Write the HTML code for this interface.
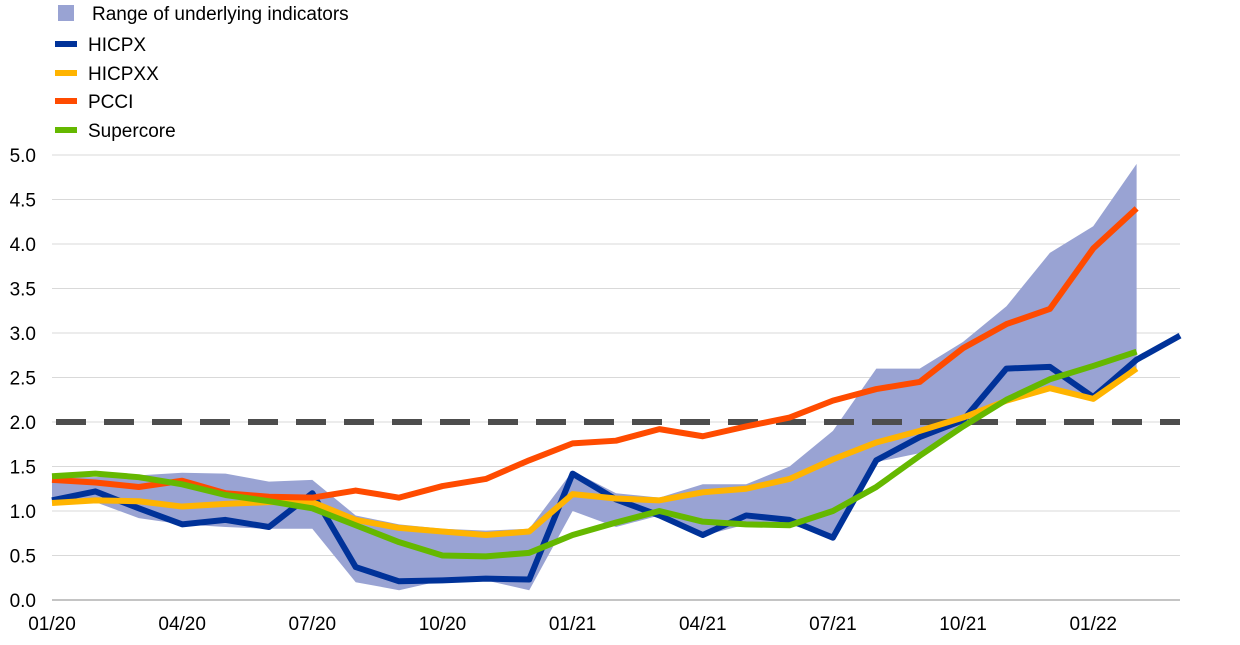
<!DOCTYPE html>
<html><head><meta charset="utf-8"><style>
html,body{margin:0;padding:0;background:#fff;}
svg{display:block;font-family:"Liberation Sans",Arial,sans-serif;}
</style></head><body>
<svg id="chart" width="1240" height="645" viewBox="0 0 1240 645">
<g id="legend">
 <g><rect x="58" y="5" width="16" height="16" fill="#99a3d3"/><text x="92" y="20" font-size="19" fill="#000">Range of underlying indicators</text></g>
 <g><rect x="55" y="41" width="22" height="6" fill="#003299"/><text x="88" y="51" font-size="19">HICPX</text></g>
 <g><rect x="55" y="70" width="22" height="6" fill="#ffb400"/><text x="88" y="80" font-size="19">HICPXX</text></g>
 <g><rect x="55" y="98" width="22" height="6" fill="#ff4b00"/><text x="88" y="108" font-size="19">PCCI</text></g>
 <g><rect x="55" y="127" width="22" height="6" fill="#65b800"/><text x="88" y="137" font-size="19">Supercore</text></g>
</g>
<g id="grid"></g><g id="band"></g><g id="ref"></g><g id="lines"></g><g id="axes"></g>
</svg>
<script>
const months=["01/20","02/20","03/20","04/20","05/20","06/20","07/20","08/20","09/20","10/20","11/20","12/20","01/21","02/21","03/21","04/21","05/21","06/21","07/21","08/21","09/21","10/21","11/21","12/21","01/22","02/22","03/22"];
const xTickLabels=["01/20","04/20","07/20","10/20","01/21","04/21","07/21","10/21","01/22"];
const yTicks=[0,0.5,1,1.5,2,2.5,3,3.5,4,4.5,5];
const rangeUpper=[1.38,1.38,1.40,1.43,1.42,1.33,1.35,0.95,0.85,0.80,0.78,0.80,1.45,1.20,1.15,1.30,1.30,1.50,1.90,2.60,2.60,2.90,3.30,3.90,4.20,4.90];
const rangeLower=[1.10,1.10,0.92,0.85,0.82,0.80,0.80,0.20,0.11,0.22,0.22,0.11,1.00,0.82,0.95,0.72,0.85,0.85,0.70,1.55,1.65,1.95,2.25,2.35,2.25,2.60];
const hicpx=[1.12,1.22,1.03,0.85,0.90,0.82,1.20,0.37,0.21,0.22,0.24,0.23,1.42,1.13,0.95,0.73,0.95,0.90,0.70,1.57,1.83,2.02,2.60,2.62,2.28,2.70,2.97];
const hicpxx=[1.09,1.12,1.11,1.05,1.08,1.10,1.10,0.90,0.81,0.77,0.73,0.77,1.19,1.14,1.12,1.21,1.25,1.36,1.58,1.77,1.90,2.05,2.24,2.38,2.26,2.60];
const pcci=[1.35,1.32,1.27,1.34,1.20,1.16,1.15,1.23,1.15,1.28,1.36,1.57,1.76,1.79,1.92,1.84,1.95,2.05,2.24,2.37,2.45,2.83,3.10,3.27,3.95,4.40];
const supercore=[1.39,1.42,1.38,1.30,1.18,1.11,1.03,0.84,0.65,0.50,0.49,0.53,0.73,0.87,1.00,0.88,0.85,0.84,1.00,1.27,1.62,1.95,2.25,2.48,2.63,2.79];
const refLevel=2.0;
const NS="http://www.w3.org/2000/svg";
const X0=52,X1=1180,Y0=600,Y1=155;
const x=i=>X0+i*(X1-X0)/(months.length-1);
const y=v=>Y0-(v/5)*(Y0-Y1);
function mk(t,a,p){const e=document.createElementNS(NS,t);for(const k in a)e.setAttribute(k,a[k]);p.appendChild(e);return e;}
const grid=document.getElementById('grid'),axes=document.getElementById('axes');
yTicks.forEach(v=>{
 const l=mk('line',{x1:X0,x2:X1,y1:y(v),y2:y(v),stroke:v===0?'#888':'#d9d9d9','stroke-width':1},grid);
 
 
 const t=mk('text',{x:36,y:y(v)+7,'font-size':19,'text-anchor':'end'},axes);
 t.textContent=v.toFixed(1);
 
 
});
xTickLabels.forEach(lab=>{
 const i=months.indexOf(lab);
 const t=mk('text',{x:x(i),y:630,'font-size':19,'text-anchor':'middle'},axes);
 t.textContent=lab;
 
 
});
let pts=rangeUpper.map((v,i)=>x(i)+','+y(v));
for(let i=rangeLower.length-1;i>=0;i--)pts.push(x(i)+','+y(rangeLower[i]));
const band=mk('polygon',{points:pts.join(' '),fill:'#99a3d3'},document.getElementById('band'));


const ref=mk('line',{x1:X0,x2:X1,y1:y(refLevel),y2:y(refLevel),stroke:'#4d4d4d','stroke-width':6,'stroke-dasharray':'30 18','stroke-dashoffset':-4},document.getElementById('ref'));


const series=[[hicpx,'#003299','hicpx-line'],[hicpxx,'#ffb400','hicpxx-line'],[pcci,'#ff4b00','pcci-line'],[supercore,'#65b800','supercore-line']];
series.forEach(([d,c,n])=>{
 const p=mk('polyline',{points:d.map((v,i)=>x(i)+','+y(v)).join(' '),fill:'none',stroke:c,'stroke-width':6,'stroke-linejoin':'round'},document.getElementById('lines'));
 
 
});
</script>
</body></html>
